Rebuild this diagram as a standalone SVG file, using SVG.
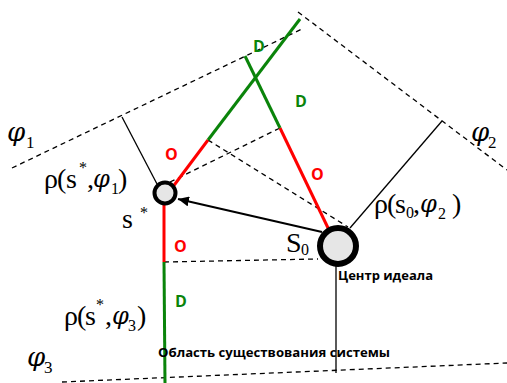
<svg xmlns="http://www.w3.org/2000/svg" width="507" height="383" viewBox="0 0 507 383">
<defs>
<style>
.dash{stroke:#000;stroke-width:1.3;stroke-dasharray:5,4;fill:none}
.thin{stroke:#000;stroke-width:1.3;fill:none}
.red{stroke:#ff0000;stroke-width:3;fill:none}
.grn{stroke:#0a840a;stroke-width:3;fill:none}
.math{font-family:"Liberation Serif","Times New Roman",serif;font-size:28px;fill:#000}
.phi{font-family:"DejaVu Serif",serif;font-style:italic;font-size:24px}
.sub{font-size:16px}
.lbl{font-family:"Open Sans","Noto Sans",sans-serif;font-weight:bold;font-size:16px}
.lr{fill:#ff0000}
.lg{fill:#0a840a}
.cap{font-family:"Open Sans","Noto Sans",sans-serif;font-weight:bold;font-size:12.5px;fill:#000}
.node{fill:#e6e6e6;stroke:#000}
</style>
<marker id="arr" markerWidth="12" markerHeight="10" refX="11" refY="5" orient="auto" markerUnits="userSpaceOnUse">
<path d="M0,0 L11,5 L0,10 Z" fill="#000"/>
</marker>
</defs>
<rect width="507" height="383" fill="#fff"/>
<g id="connectors">
<line class="dash" x1="12" y1="168" x2="304" y2="28"/>
<line class="dash" x1="298" y1="12" x2="507" y2="170"/>
<line class="dash" x1="62" y1="382" x2="507" y2="363"/>
<line class="dash" x1="170" y1="182" x2="280" y2="128"/>
<line class="dash" x1="208" y1="140" x2="348" y2="227"/>
<line class="dash" x1="164" y1="262" x2="318" y2="259"/>
<line class="thin" x1="122" y1="117" x2="157" y2="184"/>
<line class="thin" x1="442" y1="121" x2="350" y2="228"/>
<line class="thin" x1="336" y1="266" x2="336" y2="373"/>
<line class="red" x1="172" y1="188" x2="208" y2="140"/>
<line class="grn" x1="208" y1="140" x2="300" y2="19"/>
<line class="red" x1="329" y1="230" x2="280" y2="128"/>
<line class="grn" x1="280" y1="128" x2="245" y2="56"/>
<line class="red" x1="164" y1="205" x2="164" y2="262"/>
<line class="grn" x1="164" y1="262" x2="165" y2="383"/>
<line x1="322" y1="232" x2="178" y2="199" stroke="#000" stroke-width="2" marker-end="url(#arr)"/>
</g>
<g id="node-sstar">
<circle class="node" cx="165" cy="193" r="10.5" stroke-width="4"/>
<text class="math" x="122" y="228">s</text>
<text class="math sub" x="140" y="218">*</text>
</g>
<g id="node-s0">
<circle class="node" cx="338" cy="246" r="18" stroke-width="6"/>
<text class="math" x="286" y="252">S<tspan class="sub" x="301" y="255">0</tspan></text>
<text class="cap" x="338" y="280" textLength="95" lengthAdjust="spacingAndGlyphs">Центр идеала</text>
</g>
<g id="labels">
<text class="math phi" x="7" y="141" style="font-size:26px">φ</text>
<text class="math sub" x="26" y="148" style="font-size:17px">1</text>
<text class="math phi" x="471" y="141" style="font-size:26px">φ</text>
<text class="math sub" x="488" y="148" style="font-size:17px">2</text>
<text class="math phi" x="27" y="366" style="font-size:26px">φ</text>
<text class="math sub" x="44" y="373" style="font-size:17px">3</text>
<text class="math" y="188"><tspan x="44">ρ</tspan><tspan x="57">(</tspan><tspan x="66">s</tspan><tspan class="sub" x="79" y="173">*</tspan><tspan x="87" y="188">,</tspan><tspan class="phi" x="93" y="187">φ</tspan><tspan class="sub" x="111" y="194">1</tspan><tspan x="118" y="188">)</tspan></text>
<text class="math" y="213"><tspan x="374">ρ</tspan><tspan x="387">(</tspan><tspan x="395">s</tspan><tspan class="sub" x="406" y="218">0</tspan><tspan x="413" y="213">,</tspan><tspan class="phi" x="420" y="212">φ</tspan><tspan class="sub" x="438" y="219">2</tspan><tspan x="452" y="213">)</tspan></text>
<text class="math" y="325"><tspan x="64">ρ</tspan><tspan x="77">(</tspan><tspan x="85">s</tspan><tspan class="sub" x="96" y="310">*</tspan><tspan x="105" y="325">,</tspan><tspan class="phi" x="112" y="324">φ</tspan><tspan class="sub" x="128" y="331">3</tspan><tspan x="137" y="325">)</tspan></text>
<text class="lbl lr" x="165" y="160">O</text>
<text class="lbl lr" x="311" y="180">O</text>
<text class="lbl lr" x="174" y="252">O</text>
<text class="lbl lg" x="253" y="52">D</text>
<text class="lbl lg" x="295" y="107">D</text>
<text class="lbl lg" x="175" y="307">D</text>
<text class="cap" x="158" y="357" textLength="232" lengthAdjust="spacingAndGlyphs">Область существования системы</text>
</g>
</svg>
